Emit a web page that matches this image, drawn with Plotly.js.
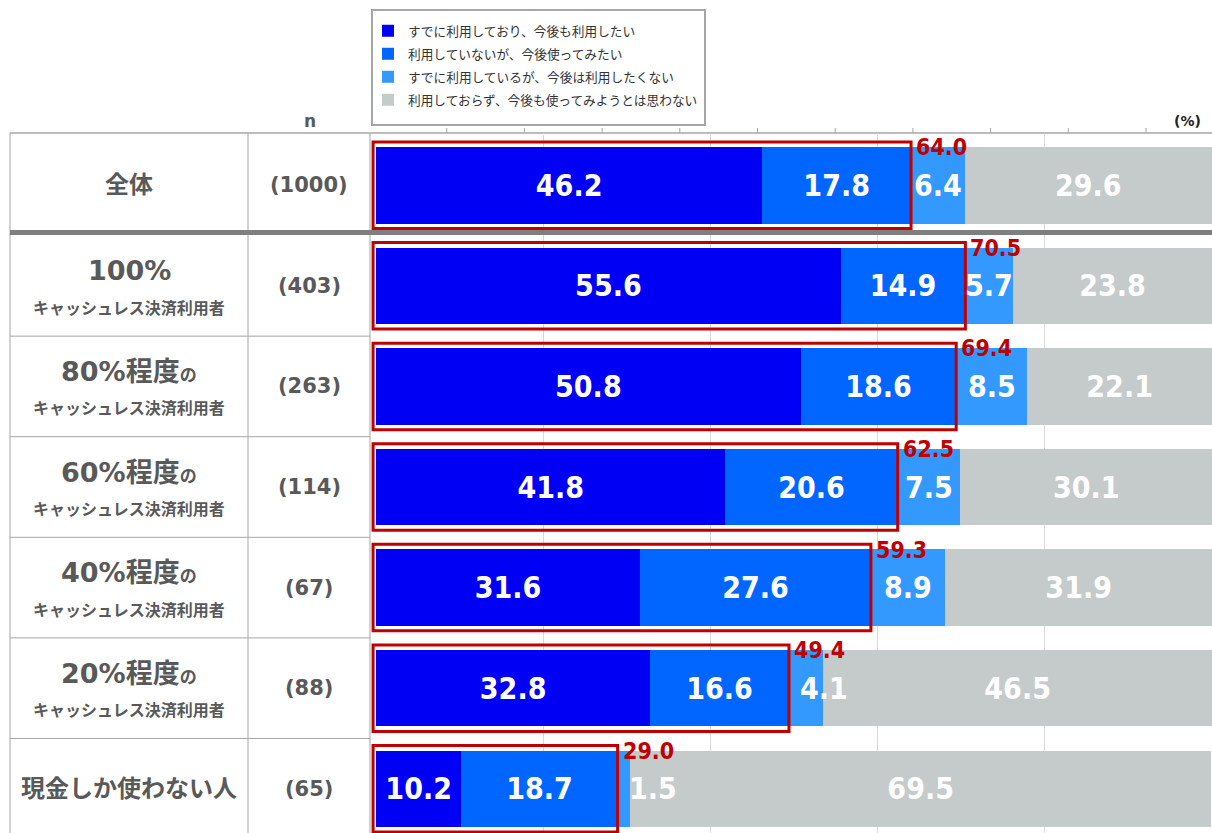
<!DOCTYPE html>
<html>
<head>
<meta charset="utf-8">
<script src="https://cdn.plot.ly/plotly-3.0.1.min.js"></script>
<style>html,body{margin:0;padding:0;background:#fff;}#chart{width:1212px;height:833px;}</style>
</head>
<body>
<div id="chart"></div>
<script>
// ---- data ----
const categories = ['全体', '100%', '80%', '60%', '40%', '20%', '現金'];
const rowMain = ['全体', '100%', '80%程度', '60%程度', '40%程度', '20%程度', '現金しか使わない人'];
const rowSuffix = ['', '', 'の', 'の', 'の', 'の', ''];
const rowSub = ['', 'キャッシュレス決済利用者', 'キャッシュレス決済利用者', 'キャッシュレス決済利用者', 'キャッシュレス決済利用者', 'キャッシュレス決済利用者', ''];
const nLabels = ['(1000)', '(403)', '(263)', '(114)', '(67)', '(88)', '(65)'];
const seriesNames = ['すでに利用しており、今後も利用したい', '利用していないが、今後使ってみたい', 'すでに利用しているが、今後は利用したくない', '利用しておらず、今後も使ってみようとは思わない'];
const useContinue = [46.2, 55.6, 50.8, 41.8, 31.6, 32.8, 10.2];
const wantToTry = [17.8, 14.9, 18.6, 20.6, 27.6, 16.6, 18.7];
const useStop = [6.4, 5.7, 8.5, 7.5, 8.9, 4.1, 1.5];
const neverUse = [29.6, 23.8, 22.1, 30.1, 31.9, 46.5, 69.5];
const totalLabels = ['64.0', '70.5', '69.4', '62.5', '59.3', '49.4', '29.0'];

// ---- style ----
const colors = ['#0000F5', '#0066FF', '#3399FF', '#C5CBCB'];
const RED = '#C00000';
const GRAYTXT = '#595959';
const LINE = '#A6A6A6';
const numFont = 'DejaVu Sans Condensed, Liberation Sans, sans-serif';
const W = 1212, H = 833, ML = 371, MT = 135;
const yRange = [6.44, -0.5];
const xp = px => (px - ML) / (W - ML);
const yp = py => 1 - (py - MT) / (H - MT);
const ypCat = v => 1 - (v - yRange[1]) / (yRange[0] - yRange[1]);

const vals = [useContinue, wantToTry, useStop, neverUse];
const traces = vals.map((v, k) => ({
  type: 'bar', orientation: 'h', name: seriesNames[k],
  x: v, y: categories, legendgroup: 'g' + k,
  marker: {color: colors[k], line: {width: 0}},
  text: k === 2 ? null : v.map(d => d.toFixed(1)),
  textposition: k === 2 ? 'none' : 'inside',
  insidetextanchor: 'middle',
  constraintext: 'none',
  textfont: {family: numFont, size: 30, color: '#FFFFFF', weight: 'bold'},
  hoverinfo: 'none'
}));

const shapes = [];
const annotations = [];
// legend frame
shapes.push({type: 'rect', xref: 'paper', yref: 'paper', x0: xp(372), x1: xp(705), y0: yp(10), y1: yp(125), line: {color: LINE, width: 2}, fillcolor: '#FFFFFF', layer: 'below'});
// table frame
shapes.push({type: 'line', xref: 'paper', yref: 'paper', x0: xp(10), x1: xp(1212), y0: yp(133), y1: yp(133), line: {color: LINE, width: 1.5}});
[10, 248, 370].forEach(px => shapes.push({type: 'line', xref: 'paper', yref: 'paper', x0: xp(px), x1: xp(px), y0: yp(133), y1: 0, line: {color: LINE, width: 1}}));
for (let i = 1; i < categories.length - 1; i++) {
  shapes.push({type: 'line', xref: 'paper', yref: 'paper', x0: xp(10), x1: xp(370), y0: ypCat(i + 0.5), y1: ypCat(i + 0.5), line: {color: LINE, width: 1}});
}
shapes.push({type: 'line', xref: 'paper', yref: 'paper', x0: xp(10), x1: xp(1212), y0: ypCat(0.47), y1: ypCat(0.47), line: {color: '#7F7F7F', width: 5}});
for (let k = 1; k <= 10; k++) {
  const px = 369 + 77.7 * k;
  shapes.push({type: 'line', xref: 'paper', yref: 'paper', x0: xp(px), x1: xp(px), y0: yp(128), y1: yp(133), line: {color: LINE, width: 1}});
}
// red boxes + totals
categories.forEach((c, i) => {
  const s = useContinue[i] + wantToTry[i];
  shapes.push({type: 'rect', xref: 'x', yref: 'y', x0: -0.35, x1: s, y0: i - 0.43, y1: i + 0.43, line: {color: RED, width: 3}, fillcolor: 'rgba(0,0,0,0)'});
  annotations.push({xref: 'x', yref: 'y', x: s, y: c, xanchor: 'left', yanchor: 'middle', xshift: 3, yshift: 38, showarrow: false,
    text: totalLabels[i], font: {family: numFont, size: 23, color: RED, weight: 'bold'}});
  // third-series labels
  const v3 = useStop[i];
  annotations.push({xref: 'x', yref: 'y', x: v3 < 5 ? s : s + v3 / 2, y: c, xanchor: v3 < 5 ? 'left' : 'center', xshift: v3 < 5 ? 9 : 0,
    yanchor: 'middle', showarrow: false, text: v3.toFixed(1), font: {family: numFont, size: 30, color: '#FFFFFF', weight: 'bold'}});
  // n column
  annotations.push({xref: 'paper', yref: 'y', x: xp(309), y: c, xanchor: 'center', yanchor: 'middle', showarrow: false,
    text: nLabels[i], font: {family: 'DejaVu Sans, sans-serif', size: 21, color: GRAYTXT, weight: 'bold'}});
  // row labels
  const mainTxt = rowMain[i] + (rowSuffix[i] ? '<span style="font-size:17px">' + rowSuffix[i] + '</span>' : '');
  const single = !rowSub[i];
  annotations.push({xref: 'paper', yref: 'y', x: xp(129), y: c, xanchor: 'center', yanchor: 'middle', yshift: single ? 0 : 15, showarrow: false,
    text: mainTxt, font: {family: 'DejaVu Sans, Noto Sans CJK JP, sans-serif', size: single ? 24 : 27, color: GRAYTXT, weight: 'bold'}});
  if (!single) {
    annotations.push({xref: 'paper', yref: 'y', x: xp(129), y: c, xanchor: 'center', yanchor: 'middle', yshift: -21, showarrow: false,
      text: rowSub[i], font: {family: 'Noto Sans CJK JP, sans-serif', size: 16, color: GRAYTXT, weight: 'bold'}});
  }
});
annotations.push({xref: 'paper', yref: 'paper', x: xp(310), y: yp(121), xanchor: 'center', yanchor: 'middle', showarrow: false,
  text: 'n', font: {family: 'DejaVu Sans, sans-serif', size: 17, color: GRAYTXT, weight: 'bold'}});
annotations.push({xref: 'paper', yref: 'paper', x: xp(1187), y: yp(121), xanchor: 'center', yanchor: 'middle', showarrow: false,
  text: '(%)', font: {family: 'DejaVu Sans, sans-serif', size: 14, color: '#222', weight: 'bold'}});

const layout = {
  width: W, height: H,
  margin: {l: ML, r: 0, t: MT, b: 0, pad: 0},
  paper_bgcolor: '#FFFFFF', plot_bgcolor: '#FFFFFF',
  barmode: 'stack', bargap: 0.24,
  showlegend: true,
  legend: {x: xp(368), y: yp(16), xanchor: 'left', yanchor: 'top', orientation: 'v', traceorder: 'grouped',
    bgcolor: 'rgba(0,0,0,0)', borderwidth: 0, tracegroupgap: 3.5, itemwidth: 30,
    font: {family: 'Noto Sans CJK JP, sans-serif', size: 12.7, color: '#333'}},
  xaxis: {range: [-0.6, 100], tickvals: [20, 40, 60, 80], showticklabels: false, showgrid: true, gridcolor: '#D9D9D9', gridwidth: 1,
    zeroline: false, showline: false, fixedrange: true},
  yaxis: {type: 'category', categoryarray: categories, range: yRange, autorange: false, showticklabels: false, showgrid: false,
    zeroline: false, showline: false, fixedrange: true},
  shapes: shapes,
  annotations: annotations
};
Plotly.newPlot('chart', traces, layout, {staticPlot: true, displayModeBar: false});
</script>
</body>
</html>
